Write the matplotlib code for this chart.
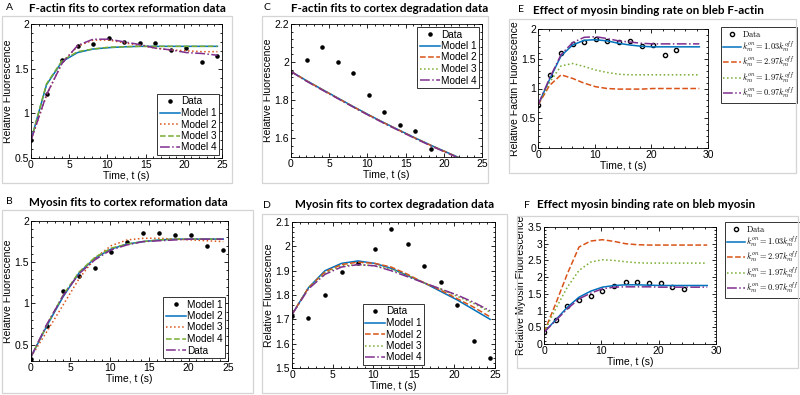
import matplotlib
matplotlib.use("Agg")
import matplotlib.pyplot as plt
from matplotlib.patches import Rectangle
from matplotlib.ticker import AutoMinorLocator, FuncFormatter

plt.rcParams['font.family'] = ['Liberation Sans', 'DejaVu Sans']
plt.rcParams['mathtext.fontset'] = 'cm'

# ---------------- data ----------------
t_data = [0, 2.03, 4.07, 6.1, 8.13, 10.17, 12.2, 14.23, 16.27, 18.3, 20.33, 22.37, 24.4]
t_long = [0, 2.03, 4.07, 6.1, 8.13, 10.17, 12.2, 14.23, 16.27, 18.3, 20.33, 22.37, 24.4, 26.43, 28.47]

# A: F-actin reformation
A_data = [0.70, 1.22, 1.60, 1.75, 1.78, 1.84, 1.80, 1.79, 1.79, 1.71, 1.73, 1.57, 1.64]
A_m1 = [0.70, 1.32, 1.58, 1.68, 1.72, 1.735, 1.745, 1.75, 1.75, 1.75, 1.75, 1.75, 1.75]
A_m2 = [0.70, 1.20, 1.57, 1.75, 1.82, 1.82, 1.79, 1.76, 1.73, 1.71, 1.70, 1.69, 1.69]
A_m3 = [0.70, 1.33, 1.59, 1.69, 1.72, 1.74, 1.745, 1.75, 1.75, 1.75, 1.75, 1.75, 1.75]
A_m4 = [0.70, 1.21, 1.56, 1.76, 1.83, 1.83, 1.80, 1.77, 1.73, 1.71, 1.68, 1.67, 1.65]

# B: myosin reformation
B_data = [0.33, 0.73, 1.15, 1.33, 1.43, 1.62, 1.75, 1.86, 1.85, 1.83, 1.83, 1.70, 1.65]
B_m1 = [0.35, 0.73, 1.08, 1.37, 1.55, 1.66, 1.72, 1.75, 1.77, 1.78, 1.78, 1.78, 1.78]
B_m2 = [0.35, 0.66, 0.98, 1.30, 1.55, 1.70, 1.77, 1.79, 1.79, 1.78, 1.77, 1.76, 1.75]
B_m3 = [0.35, 0.74, 1.10, 1.38, 1.56, 1.67, 1.72, 1.75, 1.77, 1.78, 1.78, 1.78, 1.78]
B_m4 = [0.35, 0.75, 1.09, 1.36, 1.53, 1.65, 1.71, 1.75, 1.76, 1.77, 1.78, 1.78, 1.78]
B_labels = ['Model 1', 'Model 2', 'Model 3', 'Model 4', 'Data']

# C: F-actin degradation
C_data = [1.95, 2.01, 2.08, 2.00, 1.94, 1.825, 1.735, 1.67, 1.635, 1.54]
C_m1 = [1.95, 1.902, 1.856, 1.811, 1.766, 1.722, 1.680, 1.640, 1.600, 1.562, 1.526, 1.490, 1.455]
C_m2 = [1.95, 1.901, 1.855, 1.810, 1.765, 1.721, 1.679, 1.639, 1.599, 1.561, 1.525, 1.489, 1.454]
C_m3 = [1.95, 1.900, 1.854, 1.809, 1.764, 1.720, 1.678, 1.638, 1.598, 1.560, 1.524, 1.488, 1.453]
C_m4 = [1.95, 1.899, 1.853, 1.808, 1.763, 1.719, 1.677, 1.637, 1.597, 1.559, 1.523, 1.487, 1.452]

# D: myosin degradation
D_data = [1.715, 1.705, 1.80, 1.895, 1.93, 1.99, 2.07, 2.01, 1.92, 1.855, 1.76, 1.61, 1.54]
D_m1 = [1.72, 1.83, 1.90, 1.93, 1.94, 1.93, 1.91, 1.88, 1.85, 1.815, 1.78, 1.74, 1.70]
D_m2 = [1.72, 1.83, 1.895, 1.925, 1.935, 1.93, 1.915, 1.885, 1.85, 1.82, 1.785, 1.75, 1.71]
D_m3 = [1.72, 1.83, 1.89, 1.92, 1.925, 1.92, 1.905, 1.88, 1.85, 1.825, 1.795, 1.765, 1.73]
D_m4 = [1.72, 1.825, 1.885, 1.915, 1.925, 1.92, 1.90, 1.875, 1.85, 1.825, 1.80, 1.77, 1.735]

# E: bleb F-actin
E_data = [0.72, 1.23, 1.60, 1.75, 1.78, 1.84, 1.80, 1.78, 1.79, 1.71, 1.73, 1.56, 1.64]
E_m1 = [0.72, 1.15, 1.55, 1.73, 1.81, 1.82, 1.80, 1.76, 1.73, 1.71, 1.70, 1.70, 1.70, 1.70, 1.70]
E_m2 = [0.72, 1.05, 1.23, 1.17, 1.09, 1.03, 1.00, 0.99, 0.99, 0.99, 1.00, 1.00, 1.00, 1.00, 1.00]
E_m3 = [0.72, 1.10, 1.38, 1.42, 1.37, 1.31, 1.27, 1.24, 1.23, 1.23, 1.23, 1.23, 1.23, 1.23, 1.23]
E_m4 = [0.72, 1.17, 1.57, 1.77, 1.86, 1.87, 1.84, 1.80, 1.78, 1.76, 1.75, 1.75, 1.75, 1.75, 1.75]

# F: bleb myosin
F_data = [0.35, 0.73, 1.15, 1.33, 1.43, 1.60, 1.75, 1.85, 1.84, 1.82, 1.82, 1.70, 1.64]
F_m1 = [0.35, 0.72, 1.10, 1.40, 1.58, 1.70, 1.75, 1.77, 1.77, 1.76, 1.75, 1.75, 1.75, 1.75, 1.75]
F_m2 = [0.35, 1.20, 2.10, 2.90, 3.08, 3.12, 3.07, 3.00, 2.97, 2.96, 2.96, 2.96, 2.96, 2.96, 2.96]
F_m3 = [0.35, 1.05, 1.70, 2.20, 2.45, 2.52, 2.50, 2.46, 2.43, 2.42, 2.42, 2.42, 2.42, 2.42, 2.42]
F_m4 = [0.35, 0.70, 1.05, 1.35, 1.52, 1.65, 1.70, 1.71, 1.71, 1.71, 1.70, 1.70, 1.70, 1.70, 1.70]

k_labels = [r'$k_m^{on} = 1.03k_m^{off}$', r'$k_m^{on} = 2.97k_m^{off}$',
            r'$k_m^{on} = 1.97k_m^{off}$', r'$k_m^{on} = 0.97k_m^{off}$']

BLUE, RED, GREEN, PURPLE = '#0072BD', '#D95319', '#77AC30', '#7E2F8E'

W, H = 800, 395
fig = plt.figure(figsize=(W / 100, H / 100), dpi=100)

def px_axes(l, t, r, b):
    return fig.add_axes([l / W, 1 - b / H, (r - l) / W, (b - t) / H])

def box(l, t, r, b):
    fig.add_artist(Rectangle((l / W, 1 - b / H), (r - l) / W, (b - t) / H,
                             transform=fig.transFigure, fill=False,
                             edgecolor='#d4d4d4', lw=0.9))

def ftext(x, y, s, **kw):
    fig.text(x / W, 1 - y / H, s, **kw)

TFS = 8.4
def title(x, y, s):
    ftext(x, y, s, ha='center', va='center', fontsize=TFS, fontweight='bold',
          family=['Lato', 'DejaVu Sans'])

def letter(x, y, s):
    ftext(x, y, s, ha='left', va='center', fontsize=7.5, family=['Lato', 'DejaVu Sans'])

fmt = FuncFormatter(lambda v, p: '%g' % round(v, 6))

def style(ax, xlim, ylim, xticks, yticks, ylabel):
    ax.set_xlim(*xlim)
    ax.set_ylim(*ylim)
    ax.set_xticks(xticks)
    ax.set_yticks(yticks)
    ax.xaxis.set_major_formatter(fmt)
    ax.yaxis.set_major_formatter(fmt)
    ax.xaxis.set_minor_locator(AutoMinorLocator(5))
    ax.yaxis.set_minor_locator(AutoMinorLocator(5))
    ax.tick_params(which='both', direction='in', top=True, right=True,
                   labelsize=7.5, pad=1.5, width=0.6)
    ax.tick_params(which='major', length=2.8)
    ax.tick_params(which='minor', length=1.5)
    for s in ax.spines.values():
        s.set_linewidth(0.6)
    ax.set_xlabel('Time, t (s)', fontsize=7.5, labelpad=0.5)
    ax.set_ylabel(ylabel, fontsize=7.5, labelpad=1)

def leg(ax, loc, anchor, fs=7.2, **kw):
    lg = ax.legend(loc=loc, bbox_to_anchor=anchor, fontsize=fs, frameon=True,
                   fancybox=False, edgecolor='#333333', framealpha=1,
                   borderpad=0.25, labelspacing=0.15, handlelength=2.0,
                   handletextpad=0.1, borderaxespad=0.3, **kw)
    lg.get_frame().set_linewidth(0.7)
    return lg

def kleg(ax, anchor):
    lg = ax.legend(loc='upper left', bbox_to_anchor=anchor, bbox_transform=fig.transFigure,
                   fontsize=6.0, frameon=True, fancybox=False, edgecolor='#333333',
                   framealpha=1, borderpad=0.25, labelspacing=0.05, handlelength=2.2,
                   handletextpad=0.1, borderaxespad=0.0)
    lg.get_frame().set_linewidth(0.7)
    return lg

LW = 1.1

# boxes
box(2, 16, 232, 183)
box(2, 210, 253, 393)
box(262, 16, 488, 183)
box(262, 214, 507, 393)
box(509, 19, 796, 173)
box(517, 216, 798, 368)

# ---------- A ----------
axA = px_axes(31, 24, 222, 158)
axA.plot(t_data, A_data, '.', color='black', ms=4.5, label='Data')
axA.plot(t_data, A_m1, '-', color=BLUE, lw=LW, label='Model 1')
axA.plot(t_data, A_m2, ':', color=RED, lw=LW, label='Model 2')
axA.plot(t_data, A_m3, '--', color=GREEN, lw=LW, label='Model 3')
axA.plot(t_data, A_m4, '-.', color=PURPLE, lw=LW, label='Model 4')
style(axA, (0, 25), (0.5, 2), [0, 5, 10, 15, 20, 25], [0.5, 1, 1.5, 2], 'Relative Fluorescence')
leg(axA, 'lower right', (1.0, 0.0))
title(127, 8, 'F-actin fits to cortex reformation data')
letter(6, 7, 'A')

# ---------- B ----------
axB = px_axes(31, 221, 228, 361)
axB.plot(t_data, B_data, '.', color='black', ms=4.5, label=B_labels[0])
axB.plot(t_data, B_m1, '-', color=BLUE, lw=LW, label=B_labels[1])
axB.plot(t_data, B_m2, ':', color=RED, lw=LW, label=B_labels[2])
axB.plot(t_data, B_m3, '--', color=GREEN, lw=LW, label=B_labels[3])
axB.plot(t_data, B_m4, '-.', color=PURPLE, lw=LW, label=B_labels[4])
style(axB, (0, 25), (0.3, 2), [0, 5, 10, 15, 20, 25], [0.5, 1, 1.5, 2], 'Relative Fluorescence')
leg(axB, 'lower right', (1.0, 0.0))
title(128, 203, 'Myosin fits to cortex reformation data')
letter(6, 201, 'B')

# ---------- C ----------
axC = px_axes(291, 24, 482, 157)
axC.plot(t_data[:len(C_data)], C_data, '.', color='black', ms=4.5, label='Data')
axC.plot(t_data, C_m1, '-', color=BLUE, lw=LW, label='Model 1')
axC.plot(t_data, C_m2, '--', color=RED, lw=LW, label='Model 2')
axC.plot(t_data, C_m3, ':', color=GREEN, lw=LW, label='Model 3')
axC.plot(t_data, C_m4, '-.', color=PURPLE, lw=LW, label='Model 4')
style(axC, (0, 25), (1.5, 2.2), [0, 5, 10, 15, 20, 25], [1.6, 1.8, 2.0, 2.2], 'Relative Fluorescence')
leg(axC, 'upper right', (1.0, 1.0))
title(390, 8, 'F-actin fits to cortex degradation data')
letter(263, 8, 'C')

# ---------- D ----------
axD = px_axes(292, 222, 495, 368)
axD.plot(t_data, D_data, '.', color='black', ms=4.5, label='Data')
axD.plot(t_data, D_m1, '-', color=BLUE, lw=LW, label='Model 1')
axD.plot(t_data, D_m2, '--', color=RED, lw=LW, label='Model 2')
axD.plot(t_data, D_m3, ':', color=GREEN, lw=LW, label='Model 3')
axD.plot(t_data, D_m4, '-.', color=PURPLE, lw=LW, label='Model 4')
style(axD, (0, 25), (1.5, 2.1), [0, 5, 10, 15, 20, 25], [1.5, 1.6, 1.7, 1.8, 1.9, 2.0, 2.1],
      'Relative Fluorescence')
leg(axD, 'lower center', (0.5, 0.0))
title(395, 205, 'Myosin fits to cortex degradation data')
letter(263, 205, 'D')

# ---------- E ----------
axE = px_axes(538, 29, 708, 148)
axE.plot(t_data, E_data, 'o', mfc='none', mec='black', ms=3, mew=1.0, label=r'$\mathrm{Data}$')
axE.plot(t_long, E_m1, '-', color=BLUE, lw=LW, label=k_labels[0])
axE.plot(t_long, E_m2, '--', color=RED, lw=LW, label=k_labels[1])
axE.plot(t_long, E_m3, ':', color=GREEN, lw=LW, label=k_labels[2])
axE.plot(t_long, E_m4, '-.', color=PURPLE, lw=LW, label=k_labels[3])
style(axE, (0, 30), (0, 2), [0, 10, 20, 30], [0, 0.5, 1, 1.5, 2], 'Relative Factin Fluorescence')
kleg(axE, (721 / W, 1 - 27 / H))
title(648, 10, 'Effect of myosin binding rate on bleb F-actin')
letter(518, 10, 'E')

# ---------- F ----------
axF = px_axes(544, 227, 716, 344)
axF.plot(t_data, F_data, 'o', mfc='none', mec='black', ms=3, mew=1.0, label=r'$\mathrm{Data}$')
axF.plot(t_long, F_m1, '-', color=BLUE, lw=LW, label=k_labels[0])
axF.plot(t_long, F_m2, '--', color=RED, lw=LW, label=k_labels[1])
axF.plot(t_long, F_m3, ':', color=GREEN, lw=LW, label=k_labels[2])
axF.plot(t_long, F_m4, '-.', color=PURPLE, lw=LW, label=k_labels[3])
style(axF, (0, 30), (0, 3.5), [0, 10, 20, 30], [0, 0.5, 1, 1.5, 2, 2.5, 3, 3.5],
      'Relative Myosin Fluorescence')
kleg(axF, (725 / W, 1 - 222 / H))
title(646, 205, 'Effect myosin binding rate on bleb myosin')
letter(524, 205, 'F')

fig.savefig('out.png', dpi=100)
